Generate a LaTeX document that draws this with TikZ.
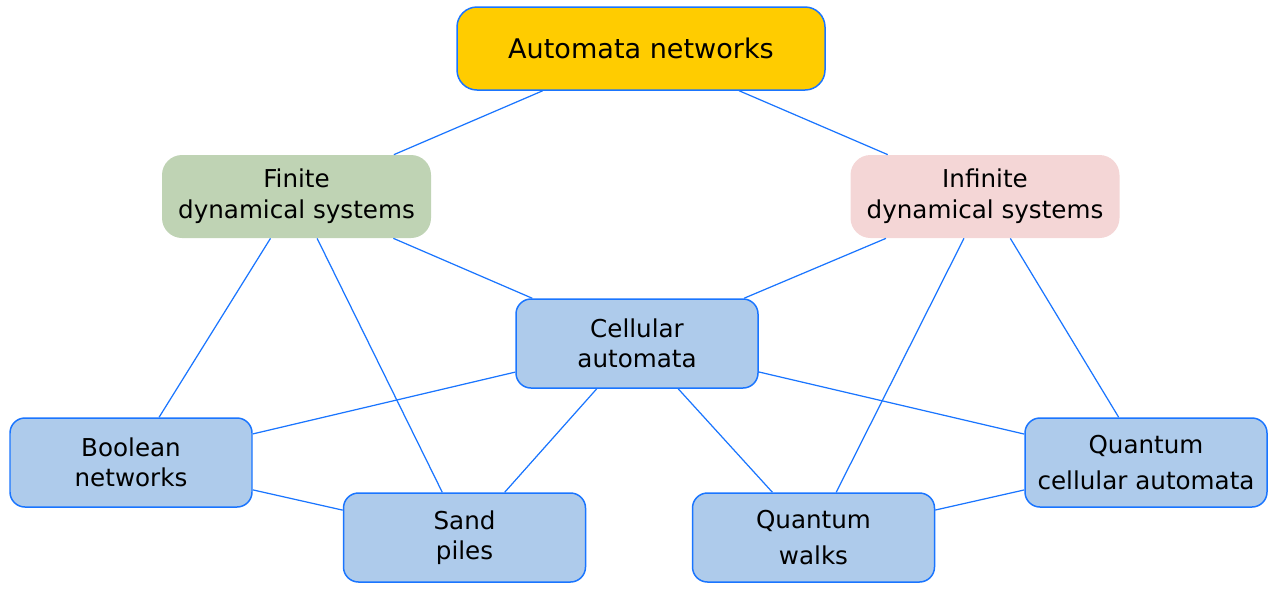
\documentclass[tikz,border=0pt]{standalone}
\usepackage{fontspec}
\setmainfont{DejaVu Sans}
\usepackage{xcolor}
\usepackage{tikz}
\usetikzlibrary{positioning}
\definecolor{linkblue}{RGB}{26,117,255}
\definecolor{rootyellow}{RGB}{255,204,0}
\definecolor{finitegreen}{RGB}{191,211,180}
\definecolor{infinitepink}{RGB}{244,214,214}
\definecolor{modelblue}{RGB}{174,203,235}
\tikzset{
    root/.style={
      rectangle,
      rounded corners=0.4cm,
      draw=linkblue, line width=0.85pt,
      fill=rootyellow,
      minimum width=7.36cm,
      minimum height=1.66cm,
      font=\fontsize{15.4}{19}\selectfont,
      text centered,
    },
    branch/.style={
      rectangle,
      rounded corners=0.4cm,
      draw=none,
      minimum width=5.38cm,
      minimum height=1.66cm,
      font=\fontsize{14}{17.5}\selectfont,
      align=center,
    },
    model/.style={
      rectangle,
      rounded corners=0.3cm,
      draw=linkblue, line width=0.85pt,
      fill=modelblue,
      minimum width=4.84cm,
      minimum height=1.78cm,
      font=\fontsize{14}{17}\selectfont,
      align=center,
    },
}

\begin{document}
\begin{tikzpicture}[on grid]

    \useasboundingbox (0,0) rectangle (25.54,-11.94);

    \node[root] (AN) at (12.82,-0.97) {Automata networks};

    \node[branch, fill=finitegreen,
    below left=2.96cm and 6.89cm of AN] (FDS)
    {Finite\\dynamical systems};

    \node[branch, fill=infinitepink,
    below right=2.96cm and 6.88cm of AN] (IDS)
    {Infinite\\dynamical systems};

    \node[model,
    below left=5.9cm and 0.08cm of AN] (CA)
    {Cellular\\automata};

    \node[model,
    below left=5.32cm and 3.31cm of FDS] (BN)
    {Boolean\\networks};

    \node[model,
    below right=5.32cm and 3.22cm of IDS] (QCA)
    {Quantum\\[4pt]cellular automata};

    \node[model,
    below left=3.88cm and 3.45cm of CA] (SP)
    {Sand\\piles};

    \node[model,
    below right=3.88cm and 3.53cm of CA] (QW)
    {Quantum\\[3pt]walks};

    \path[draw=linkblue, line width=0.7pt]
    (AN) edge (FDS)
    (AN) edge (IDS)

    (FDS) edge (CA)
    (FDS) edge (BN)
    (FDS) edge (SP)

    (IDS) edge (CA)
    (IDS) edge (QW)
    (IDS) edge (QCA)

    (CA) edge (BN)
    (CA) edge (SP)
    (CA) edge (QW)
    (CA) edge (QCA)

    (BN) edge (SP)
    (QW) edge (QCA);

\end{tikzpicture}
\end{document}
